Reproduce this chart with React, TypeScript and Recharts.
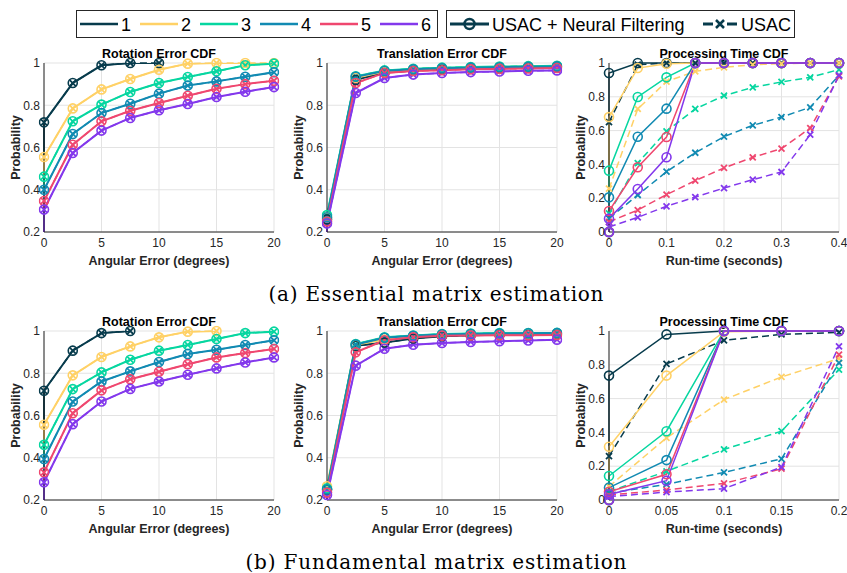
import React from 'react';
import { LineChart, Line, XAxis, YAxis, CartesianGrid } from 'recharts';

// series 1..6 and the two methods
const SERIES = ['1', '2', '3', '4', '5', '6'];
const COLORS = ['#073b4c', '#ffd166', '#06d6a0', '#118ab2', '#ef476f', '#8338ec'];
const METHODS = ['USAC + Neural Filtering', 'USAC'];

const errorX = [0, 2.5, 5, 7.5, 10, 12.5, 15, 17.5, 20];
const errorTicks = [0, 5, 10, 15, 20];
const probTicks = [0.2, 0.4, 0.6, 0.8, 1];
const timeXEss = [0, 0.05, 0.1, 0.15, 0.2, 0.25, 0.3, 0.35, 0.4];
const timeTicksEss = [0, 0.1, 0.2, 0.3, 0.4];
const timeXFund = [0, 0.05, 0.1, 0.15, 0.2];
const timeTicksFund = [0, 0.05, 0.1, 0.15, 0.2];
const timeProbTicks = [0, 0.2, 0.4, 0.6, 0.8, 1];

// every CDF curve starts at zero
const CDF_START = 0;

// (a) essential matrix
const rotEss = [
  [0.719, 0.905, 0.989, 1.0, 1.0, null, null, null, null],
  [0.555, 0.785, 0.875, 0.924, 0.968, 0.997, 1.0, 1.0, 1.0],
  [0.462, 0.724, 0.803, 0.863, 0.905, 0.934, 0.961, 0.989, 0.997],
  [0.4, 0.664, 0.763, 0.807, 0.855, 0.893, 0.913, 0.935, 0.956],
  [0.347, 0.613, 0.724, 0.774, 0.811, 0.845, 0.878, 0.9, 0.916],
  [0.306, 0.574, 0.68, 0.74, 0.776, 0.806, 0.839, 0.864, 0.886],
];
const transEss = [
  [0.26, 0.92, 0.955, 0.965, 0.97, 0.975, 0.977, 0.98, 0.982],
  [0.27, 0.93, 0.96, 0.97, 0.975, 0.978, 0.98, 0.983, 0.985],
  [0.28, 0.937, 0.965, 0.973, 0.978, 0.981, 0.983, 0.985, 0.987],
  [0.27, 0.935, 0.962, 0.97, 0.975, 0.978, 0.98, 0.982, 0.984],
  [0.25, 0.905, 0.953, 0.962, 0.966, 0.97, 0.972, 0.974, 0.976],
  [0.24, 0.858, 0.929, 0.945, 0.953, 0.957, 0.96, 0.963, 0.965],
];
const timeEssNf = [
  [0.941, 1, 1, 1, 1, 1, 1, 1, 1],
  [0.68, 0.97, 0.996, 1, 1, 1, 1, 1, 1],
  [0.363, 0.799, 0.915, 1, 1, 1, 1, 1, 1],
  [0.205, 0.564, 0.73, 1, 1, 1, 1, 1, 1],
  [0.124, 0.383, 0.562, 1, 1, 1, 1, 1, 1],
  [0.079, 0.254, 0.442, 1, 1, 1, 1, 1, 1],
];
const timeEssUsac = [
  [0.65, 0.99, 1, 1, 1, 1, 1, 1, 1],
  [0.256, 0.728, 0.89, 0.951, 0.974, 0.99, 0.996, 1, 1],
  [0.11, 0.408, 0.596, 0.728, 0.807, 0.856, 0.888, 0.915, 0.961],
  [0.08, 0.219, 0.357, 0.469, 0.564, 0.631, 0.68, 0.738, 0.927],
  [0.06, 0.13, 0.221, 0.304, 0.379, 0.442, 0.493, 0.615, 0.921],
  [0.03, 0.087, 0.152, 0.207, 0.26, 0.31, 0.355, 0.576, 0.927],
];

// (b) fundamental matrix
const rotFund = [
  [0.717, 0.907, 0.99, 1.0, null, null, null, null, null],
  [0.556, 0.79, 0.877, 0.927, 0.97, 0.997, 1.0, null, null],
  [0.461, 0.725, 0.804, 0.864, 0.907, 0.934, 0.962, 0.99, 0.997],
  [0.394, 0.666, 0.761, 0.809, 0.853, 0.891, 0.911, 0.934, 0.956],
  [0.331, 0.611, 0.719, 0.772, 0.807, 0.843, 0.875, 0.896, 0.915],
  [0.284, 0.559, 0.666, 0.726, 0.761, 0.793, 0.823, 0.851, 0.875],
];
const transFund = [
  [0.25, 0.93, 0.945, 0.965, 0.975, 0.98, 0.982, 0.984, 0.985],
  [0.265, 0.935, 0.96, 0.975, 0.982, 0.985, 0.987, 0.988, 0.989],
  [0.255, 0.938, 0.97, 0.979, 0.986, 0.988, 0.99, 0.99, 0.991],
  [0.25, 0.936, 0.968, 0.977, 0.984, 0.986, 0.988, 0.989, 0.99],
  [0.235, 0.899, 0.956, 0.97, 0.978, 0.979, 0.98, 0.98, 0.981],
  [0.224, 0.836, 0.916, 0.935, 0.943, 0.948, 0.952, 0.955, 0.959],
];
const timeFundNf = [
  [0.736, 0.98, 1, 1, 1],
  [0.315, 0.736, 0.996, 1, 1],
  [0.142, 0.407, 1, 1, 1],
  [0.073, 0.236, 1, 1, 1],
  [0.049, 0.152, 1, 1, 1],
  [0.033, 0.114, 1, 1, 1],
];
const timeFundUsac = [
  [0.26, 0.805, 0.945, 0.98, 0.992],
  [0.08, 0.368, 0.594, 0.728, 0.837],
  [0.05, 0.17, 0.299, 0.407, 0.772],
  [0.04, 0.093, 0.163, 0.244, 0.811],
  [0.03, 0.059, 0.098, 0.185, 0.86],
  [0.02, 0.047, 0.067, 0.195, 0.909],
];

const AXIS = '#262626';
const GRID = '#e3e3e3';
const FONT = '"Liberation Sans", Arial, Helvetica, sans-serif';
const SERIF = '"DejaVu Serif", "Liberation Serif", serif';
const PLOT_W = 230;
const PLOT_H = 169;

function buildRows(xs: number[], nf: (number | null)[][], usac: (number | null)[][]) {
  const start: Record<string, number | null> = { x: xs[0] };
  nf.forEach((_, i) => {
    start[`n${i}`] = CDF_START;
  });
  const rows = xs.map((x, j) => {
    const r: Record<string, number | null> = { x };
    nf.forEach((s, i) => {
      r[`n${i}`] = s[j];
    });
    usac.forEach((s, i) => {
      r[`u${i}`] = s[j];
    });
    return r;
  });
  return [start, ...rows];
}

const crossDot = (color: string) => (props: any) => {
  const { cx, cy, index } = props;
  if (cx == null || cy == null || Number.isNaN(cy)) return <g key={`x-${index}`} />;
  const s = 3;
  return (
    <path
      key={`x-${index}`}
      d={`M${cx - s},${cy - s}L${cx + s},${cy + s}M${cx - s},${cy + s}L${cx + s},${cy - s}`}
      stroke={color}
      strokeWidth={1.8}
      fill="none"
    />
  );
};

interface PanelProps {
  plotLeft: number;
  plotTop: number;
  xs: number[];
  xTicks: number[];
  yTicks: number[];
  nf: (number | null)[][];
  usac: (number | null)[][];
  lineWidth: number;
}

function Panel({ plotLeft, plotTop, xs, xTicks, yTicks, nf, usac, lineWidth }: PanelProps) {
  const data = buildRows(xs, nf, usac);
  const yDomain = [yTicks[0], yTicks[yTicks.length - 1]];
  return (
    <div style={{ position: 'absolute', left: plotLeft - 40, top: plotTop - 10 }}>
      <LineChart
        width={PLOT_W + 54}
        height={PLOT_H + 34}
        data={data}
        margin={{ top: 10, right: 14, bottom: 0, left: 0 }}
      >
        <CartesianGrid stroke={GRID} strokeWidth={1} />
        <XAxis
          dataKey="x"
          type="number"
          domain={[xs[0], xs[xs.length - 1]]}
          ticks={xTicks}
          interval={0}
          height={24}
          tickSize={0}
          tickMargin={6}
          stroke={AXIS}
          tick={{ fill: AXIS, fontSize: 12 }}
        />
        <YAxis
          type="number"
          domain={yDomain}
          ticks={yTicks}
          allowDataOverflow={yTicks[0] > CDF_START}
          interval={0}
          width={40}
          tickSize={0}
          tickMargin={4}
          stroke={AXIS}
          tick={{ fill: AXIS, fontSize: 12 }}
        />
        <YAxis yAxisId="u" type="number" domain={yDomain} hide />
        {usac.map((_, i) => (
          <Line
            key={`u${i}`}
            yAxisId="u"
            dataKey={`u${i}`}
            name={`${METHODS[1]} ${SERIES[i]}`}
            stroke={COLORS[i]}
            strokeWidth={1.5}
            strokeDasharray="7 4"
            dot={crossDot(COLORS[i])}
            activeDot={false}
            isAnimationActive={false}
          />
        ))}
        {nf.map((_, i) => (
          <Line
            key={`n${i}`}
            dataKey={`n${i}`}
            name={`${METHODS[0]} ${SERIES[i]}`}
            stroke={COLORS[i]}
            strokeWidth={lineWidth}
            dot={{ r: 4.5, fill: 'none', strokeWidth: 1.6, clipDot: false }}
            activeDot={false}
            isAnimationActive={false}
          />
        ))}
      </LineChart>
    </div>
  );
}

const COLS = [44, 327, 609];
const ROWS = [63, 331];
const TITLES = ['Rotation Error CDF', 'Translation Error CDF', 'Processing Time CDF'];
const XLABELS = ['Angular Error (degrees)', 'Angular Error (degrees)', 'Run-time (seconds)'];
const CAPTIONS = ['(a) Essential matrix estimation', '(b) Fundamental matrix estimation'];

function Overlay() {
  return (
    <svg width={847} height={573} style={{ position: 'absolute', left: 0, top: 0, fontFamily: FONT }}>
      {/* legend: series */}
      <rect x={76.5} y={10.5} width={361} height={27} fill="#fff" stroke={AXIS} strokeWidth={1} />
      {SERIES.map((s, i) => (
        <g key={s}>
          <line x1={80 + 60 * i} x2={118 + 60 * i} y1={24} y2={24} stroke={COLORS[i]} strokeWidth={2.5} />
          <text x={121 + 60 * i} y={30.5} fontSize={18} fill="#000">
            {s}
          </text>
        </g>
      ))}
      {/* legend: methods */}
      <rect x={446.5} y={10.5} width={348} height={27} fill="#fff" stroke={AXIS} strokeWidth={1} />
      <line x1={450} x2={489} y1={24} y2={24} stroke={COLORS[0]} strokeWidth={3} />
      <circle cx={469.5} cy={24} r={5} fill="none" stroke={COLORS[0]} strokeWidth={2.5} />
      <text x={492} y={30.5} fontSize={18} fill="#000">
        {METHODS[0]}
      </text>
      <line x1={703} x2={713} y1={24} y2={24} stroke={COLORS[0]} strokeWidth={3} />
      <line x1={727} x2={737} y1={24} y2={24} stroke={COLORS[0]} strokeWidth={3} />
      <path d="M716,20L724,28M716,28L724,20" stroke={COLORS[0]} strokeWidth={2.5} />
      <text x={741} y={30.5} fontSize={18} fill="#000">
        {METHODS[1]}
      </text>

      {ROWS.map((top, r) =>
        COLS.map((left, c) => (
          <g key={`${r}-${c}`} fontWeight="bold" fontSize={12.5} fill="#000" textAnchor="middle">
            <text x={left + PLOT_W / 2} y={top - 5.5}>
              {TITLES[c]}
            </text>
            <text x={left + PLOT_W / 2} y={top + 201.5} fill={AXIS}>
              {XLABELS[c]}
            </text>
            <text
              x={left - 24.5}
              y={top + PLOT_H / 2}
              fill={AXIS}
              transform={`rotate(-90 ${left - 24.5} ${top + PLOT_H / 2})`}
            >
              Probability
            </text>
          </g>
        ))
      )}

      <text x={436} y={301} textAnchor="middle" fontFamily={SERIF} fontSize={20} textLength={335} lengthAdjust="spacing">
        {CAPTIONS[0]}
      </text>
      <text x={436} y={569} textAnchor="middle" fontFamily={SERIF} fontSize={20} textLength={381} lengthAdjust="spacing">
        {CAPTIONS[1]}
      </text>
    </svg>
  );
}

export default function App() {
  return (
    <div
      style={{
        position: 'absolute',
        left: 0,
        top: 0,
        width: 847,
        height: 573,
        overflow: 'hidden',
        background: '#fff',
        fontFamily: FONT,
      }}
    >
      <Overlay />
      <Panel plotLeft={COLS[0]} plotTop={ROWS[0]} xs={errorX} xTicks={errorTicks} yTicks={probTicks} nf={rotEss} usac={rotEss} lineWidth={2} />
      <Panel plotLeft={COLS[1]} plotTop={ROWS[0]} xs={errorX} xTicks={errorTicks} yTicks={probTicks} nf={transEss} usac={transEss} lineWidth={2} />
      <Panel plotLeft={COLS[2]} plotTop={ROWS[0]} xs={timeXEss} xTicks={timeTicksEss} yTicks={timeProbTicks} nf={timeEssNf} usac={timeEssUsac} lineWidth={1.5} />
      <Panel plotLeft={COLS[0]} plotTop={ROWS[1]} xs={errorX} xTicks={errorTicks} yTicks={probTicks} nf={rotFund} usac={rotFund} lineWidth={2} />
      <Panel plotLeft={COLS[1]} plotTop={ROWS[1]} xs={errorX} xTicks={errorTicks} yTicks={probTicks} nf={transFund} usac={transFund} lineWidth={2} />
      <Panel plotLeft={COLS[2]} plotTop={ROWS[1]} xs={timeXFund} xTicks={timeTicksFund} yTicks={timeProbTicks} nf={timeFundNf} usac={timeFundUsac} lineWidth={1.5} />
    </div>
  );
}
